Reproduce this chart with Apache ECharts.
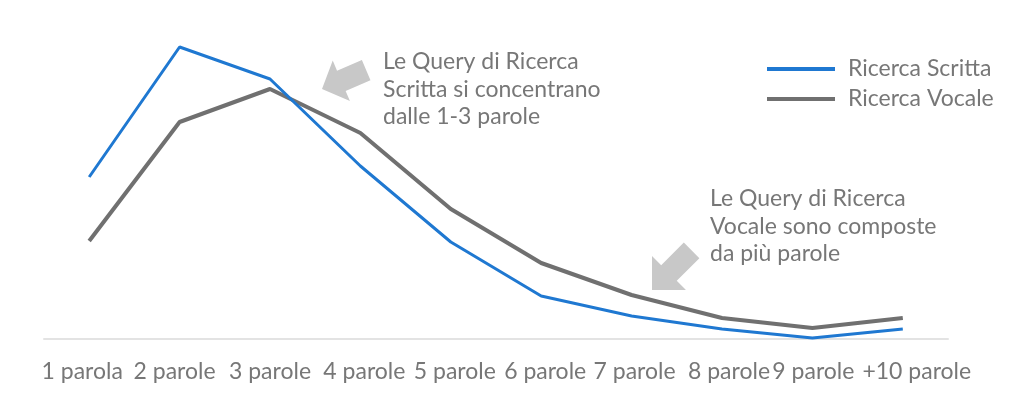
<!DOCTYPE html>
<html>
<head>
<meta charset="utf-8">
<script src="https://cdn.jsdelivr.net/npm/echarts@6/dist/echarts.min.js"></script>
<style>
html,body{margin:0;padding:0;background:#fff;}
#chart{width:1024px;height:414px;}
</style>
</head>
<body>
<div id="chart"></div>
<script>
var categories = ['1 parola','2 parole','3 parole','4 parole','5 parole','6 parole','7 parole','8 parole','9 parole','+10 parole'];
var scrittaValues = [16.2, 29.2, 26.0, 17.3, 9.7, 4.3, 2.3, 1.0, 0.1, 1.0];
var vocaleValues  = [9.8, 21.7, 25.0, 20.6, 13.0, 7.6, 4.4, 2.1, 1.1, 2.1];
var seriesNames = ['Ricerca Scritta', 'Ricerca Vocale'];
var note1 = 'Le Query di Ricerca\nScritta si concentrano\ndalle 1-3 parole';
var note2 = 'Le Query di Ricerca\nVocale sono composte\nda più parole';

// horizontal nudges (px) of the tick labels, as laid out in the original
var labelShift = [-7, -5, 0, 4, 4, 4, 3, 7, 1, 14];

function arrowPoints(tx, ty, angleDeg, len, headLen, headHalf, shaftHalf) {
  var a = angleDeg * Math.PI / 180;
  var ux = Math.cos(a), uy = Math.sin(a);
  var px = -uy, py = ux;
  function p(along, side) { return [tx - ux * along + px * side, ty - uy * along + py * side]; }
  return [
    p(0, 0), p(headLen, headHalf), p(headLen, shaftHalf), p(len, shaftHalf),
    p(len, -shaftHalf), p(headLen, -shaftHalf), p(headLen, -headHalf)
  ];
}

var textColor = '#777777';
var fontFam = 'Lato, "Open Sans", sans-serif';

var rich = {};
labelShift.forEach(function (s, i) {
  rich['l' + i] = {
    color: textColor, fontSize: 23, fontFamily: fontFam,
    padding: s >= 0 ? [0, 0, 0, 2 * s] : [0, -2 * s, 0, 0]
  };
});

var chart = echarts.init(document.getElementById('chart'));
chart.setOption({
  backgroundColor: '#ffffff',
  animation: false,
  grid: { left: 44, right: 76, top: 39, bottom: 75 },
  legend: {
    orient: 'vertical',
    left: 762,
    top: 51,
    itemWidth: 68,
    itemHeight: 4,
    itemGap: 4,
    icon: 'rect',
    data: seriesNames,
    textStyle: { color: textColor, fontSize: 23, fontFamily: fontFam, lineHeight: 26, padding: [0, 0, 0, 8] }
  },
  xAxis: {
    type: 'category',
    data: categories,
    boundaryGap: true,
    axisLine: { show: true, lineStyle: { color: '#e3e3e3', width: 2 } },
    axisTick: { show: false },
    axisLabel: {
      interval: 0, color: textColor, fontSize: 23, fontFamily: fontFam, margin: 21,
      formatter: function (value, index) { return '{l' + index + '|' + value + '}'; },
      rich: rich
    }
  },
  yAxis: {
    type: 'value',
    min: 0,
    max: 30,
    show: false,
    splitLine: { show: false }
  },
  series: [
    {
      name: seriesNames[0],
      type: 'line',
      data: scrittaValues,
      symbol: 'none',
      color: '#1f78d1',
      lineStyle: { color: '#1f78d1', width: 3 },
      z: 3
    },
    {
      name: seriesNames[1],
      type: 'line',
      data: vocaleValues,
      symbol: 'none',
      color: '#707070',
      lineStyle: { color: '#707070', width: 4 },
      z: 2
    }
  ],
  graphic: [
    {
      type: 'polygon',
      shape: { points: arrowPoints(322, 89, 157, 48, 21, 22, 11) },
      style: { fill: '#c8c8c8' }
    },
    {
      type: 'polygon',
      shape: { points: arrowPoints(652, 290, 135, 56, 24, 24, 11) },
      style: { fill: '#c8c8c8' }
    },
    {
      type: 'text',
      left: 383,
      top: 48,
      style: { text: note1, fill: textColor, font: '23px ' + fontFam, lineHeight: 27.5 }
    },
    {
      type: 'text',
      left: 710,
      top: 185,
      style: { text: note2, fill: textColor, font: '23px ' + fontFam, lineHeight: 27.5 }
    }
  ]
});
</script>
</body>
</html>
